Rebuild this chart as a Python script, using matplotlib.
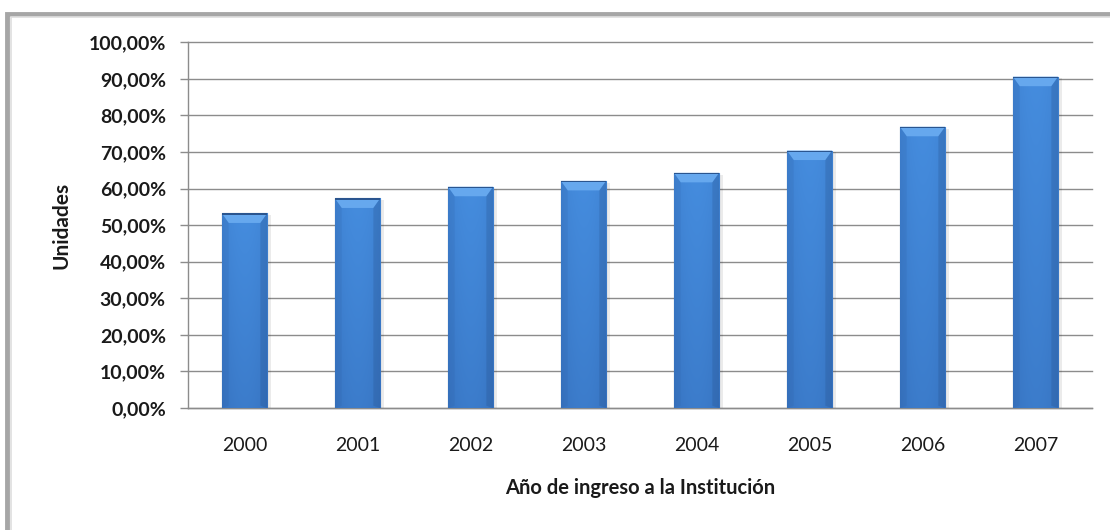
import matplotlib
matplotlib.use("Agg")
import matplotlib.pyplot as plt
import numpy as np
from matplotlib.patches import Rectangle, Polygon
from matplotlib.ticker import FuncFormatter, MultipleLocator

plt.rcParams["font.family"] = ["Lato", "DejaVu Sans"]

# Data
years = ["2000", "2001", "2002", "2003", "2004", "2005", "2006", "2007"]
values = [53.2, 57.3, 60.5, 62.1, 64.3, 70.4, 76.9, 90.6]

x_label = "Año de ingreso a la Institución"
y_label = "Unidades"

fig = plt.figure(figsize=(11.1, 5.3), dpi=100)
fig.patch.set_facecolor("white")

# outer chart frame (only left/top visible in the original)
fig.add_artist(Rectangle((0.0065, -0.05), 1.1, 1.0236, transform=fig.transFigure,
                         fill=False, edgecolor="#a6a6a6", linewidth=3.5))
fig.add_artist(Rectangle((0.0098, -0.05), 1.1, 1.0170, transform=fig.transFigure,
                         fill=False, edgecolor="#dedede", linewidth=1.2))

ax = fig.add_axes([0.1694, 0.2302, 0.8144, 0.69])
x = np.arange(len(years))
width = 0.40

# soft shadow
ax.bar(x + 0.015, values, width + 0.03, bottom=-0.5, color="#000000", alpha=0.08,
       zorder=2, linewidth=0)
bars = ax.bar(x, values, width, color="#3a78c9", edgecolor="#2a558f",
              linewidth=0.8, zorder=3)

# vertical + horizontal shading inside each bar
ny, nx = 64, 32
vy = np.linspace(0, 1, ny)[:, None]
hx = np.linspace(-1, 1, nx)[None, :]
shade = 0.45 + 0.35 * vy + 0.2 * (1 - hx ** 2)
top_c = np.array([0.27, 0.55, 0.87])
bot_c = np.array([0.17, 0.37, 0.66])
img = bot_c[None, None, :] + (top_c - bot_c)[None, None, :] * np.clip(shade, 0, 1)[:, :, None]

for b in bars:
    bx, bw, bh = b.get_x(), b.get_width(), b.get_height()
    im = ax.imshow(img, extent=(bx, bx + bw, 0, bh), origin="lower",
                   aspect="auto", zorder=3.5, interpolation="bicubic")
    im.set_clip_path(b)
    # bevel on top
    inset = 0.06
    bev = 2.6
    ax.add_patch(Polygon([(bx, bh), (bx + bw, bh), (bx + bw - inset, bh - bev),
                          (bx + inset, bh - bev)], closed=True,
                         facecolor="#66a8ee", edgecolor="none", zorder=4))
    ax.add_patch(Polygon([(bx, bh), (bx + inset, bh - bev), (bx + inset, 0.6), (bx, 0)],
                         closed=True, facecolor="#2c5c9e", alpha=0.15,
                         edgecolor="none", zorder=4))
    ax.add_patch(Polygon([(bx + bw, bh), (bx + bw - inset, bh - bev),
                          (bx + bw - inset, 0.6), (bx + bw, 0)],
                         closed=True, facecolor="#23497f", alpha=0.22,
                         edgecolor="none", zorder=4))
    ax.add_patch(Rectangle((bx, bh - 0.3), bw, 0.3, facecolor="#2a558f",
                           edgecolor="none", zorder=4.5))

ax.set_xlim(-0.5, len(years) - 0.5)
ax.set_ylim(0, 100)
ax.yaxis.set_major_locator(MultipleLocator(10))
ax.yaxis.set_major_formatter(FuncFormatter(lambda v, p: f"{v:.2f}".replace(".", ",") + "%"))
ax.grid(axis="y", color="#8c8c8c", linewidth=1.0, zorder=1, clip_on=False)
ax.set_axisbelow(True)

for s in ["top", "right"]:
    ax.spines[s].set_visible(False)
ax.spines["left"].set_color("#8c8c8c")
ax.spines["bottom"].set_color("#8c8c8c")
ax.spines["left"].set_linewidth(1.0)
ax.spines["bottom"].set_linewidth(1.0)

ax.set_xticks(x)
ax.set_xticklabels(years)
ax.tick_params(axis="x", length=0, pad=21, labelsize=14, labelcolor="#1a1a1a")
ax.tick_params(axis="y", length=6, width=1.0, color="#8c8c8c", pad=10,
               labelsize=14, labelcolor="#1a1a1a")
for lbl in ax.get_yticklabels():
    lbl.set_fontweight("bold")

ax.set_xlabel(x_label, fontsize=14.5, fontweight="bold", color="#1a1a1a", labelpad=17)
ax.set_ylabel(y_label, fontsize=15, fontweight="bold", color="#1a1a1a", labelpad=12)

fig.savefig("out.png", dpi=100)
